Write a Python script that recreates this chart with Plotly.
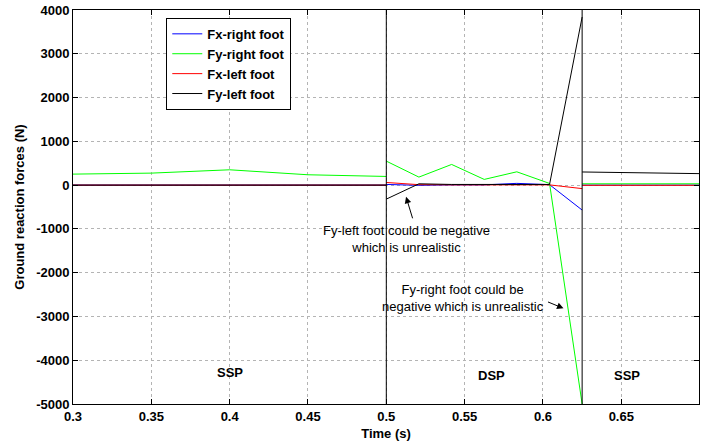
import plotly.graph_objects as go

# ---- data ----
t_ssp1 = [0.3, 0.35, 0.4, 0.45, 0.5]
t_dsp = [0.5, 0.5208, 0.5417, 0.5625, 0.5833, 0.6042, 0.625]
t_ssp2 = [0.625, 0.66, 0.7]

fx_right_ssp1 = [0, 0, 0, 0, 0]
fy_right_ssp1 = [251, 274, 350, 236, 198]
fx_left_ssp1 = [0, 0, 0, 0, 0]
fy_left_ssp1 = [0, 0, 0, 0, 0]

fx_right_dsp = [15, -5, 5, 5, 40, 10, -570]
fy_right_dsp = [548, 183, 472, 130, 304, 38, -5000]
fx_left_dsp = [60, 10, 5, 5, 5, 5, -80]
fy_left_dsp = [-320, 30, 15, 10, 10, 15, 3840]

fx_right_ssp2 = [0, 0, 0]
fy_right_ssp2 = [30, 30, 30]
fx_left_ssp2 = [-5, -5, -5]
fy_left_ssp2 = [300, 275, 262]

series_names = ["Fx-right foot", "Fy-right foot", "Fx-left foot", "Fy-left foot"]
series_colors = ["#0000ff", "#00ff00", "#ff0000", "#000000"]
series_data = [
    (fx_right_ssp1, fx_right_dsp, fx_right_ssp2),
    (fy_right_ssp1, fy_right_dsp, fy_right_ssp2),
    (fx_left_ssp1, fx_left_dsp, fx_left_ssp2),
    (fy_left_ssp1, fy_left_dsp, fy_left_ssp2),
]

x_ticks = [0.3, 0.35, 0.4, 0.45, 0.5, 0.55, 0.6, 0.65]
y_ticks = [4000, 3000, 2000, 1000, 0, -1000, -2000, -3000, -4000, -5000]
phase_bounds = [0.5, 0.625]

FONT = "Liberation Sans, Arial, sans-serif"

fig = go.Figure()
for name, color, (a, b, c) in zip(series_names, series_colors, series_data):
    xs = t_ssp1 + [None] + t_dsp + [None] + t_ssp2
    ys = a + [None] + b + [None] + c
    fig.add_trace(go.Scatter(x=xs, y=ys, mode="lines", name=name,
                             line=dict(color=color, width=1),
                             connectgaps=False))

for xb in phase_bounds:
    fig.add_shape(type="line", xref="x", yref="paper", x0=xb, x1=xb, y0=0, y1=1,
                  line=dict(color="black", width=1))

annos = [
    dict(x=0.4, y=-4290, text="<b>SSP</b>", showarrow=False),
    dict(x=0.567, y=-4350, text="<b>DSP</b>", showarrow=False),
    dict(x=0.6536, y=-4350, text="<b>SSP</b>", showarrow=False),
    dict(x=0.5126, y=-1233, text="Fy-left foot could be negative<br>which is unrealistic",
         showarrow=False),
    dict(x=0.549, y=-2580, text="Fy-right foot could be<br>negative which is unrealistic",
         showarrow=False),
    dict(x=0.5126, y=-267, text="", showarrow=True, ax=7, ay=23,
         arrowhead=2, arrowsize=1.3, arrowwidth=1, arrowcolor="black"),
    dict(x=0.6131, y=-2815, text="", showarrow=True, ax=-17, ay=-7,
         arrowhead=2, arrowsize=1.3, arrowwidth=1, arrowcolor="black"),
]
for a in annos:
    a.update(font=dict(family=FONT, size=13, color="black"))
    fig.add_annotation(**a)

fig.update_layout(
    width=710, height=443,
    margin=dict(l=73, r=11, t=10, b=39, autoexpand=False),
    paper_bgcolor="white", plot_bgcolor="white",
    font=dict(family=FONT, size=13, color="black"),
    showlegend=True,
    legend=dict(x=0.149, y=0.98, xanchor="left", yanchor="top",
                bgcolor="white", bordercolor="black", borderwidth=1,
                font=dict(family=FONT, size=13, color="black", weight="bold"),
                itemwidth=30, tracegroupgap=0),
)
fig.update_xaxes(
    range=[0.3, 0.6996], tickvals=x_ticks, ticktext=[f"{v:g}" for v in x_ticks],
    ticks="inside", ticklen=5, tickcolor="black", automargin=False,
    showline=True, linecolor="black", linewidth=1, mirror="ticks",
    showgrid=True, gridcolor="#b4b4b4", griddash="dot", gridwidth=1,
    zeroline=False,
    tickfont=dict(family=FONT, size=13, weight="bold"),
    title=dict(text="<b>Time (s)</b>", font=dict(family=FONT, size=13), standoff=6),
)
fig.update_yaxes(
    range=[-5000, 4000], tickvals=y_ticks, ticktext=[str(v) for v in y_ticks],
    ticks="inside", ticklen=5, tickcolor="black", automargin=False,
    showline=True, linecolor="black", linewidth=1, mirror="ticks",
    showgrid=True, gridcolor="#b4b4b4", griddash="dot", gridwidth=1,
    zeroline=False,
    tickfont=dict(family=FONT, size=13, weight="bold"),
    title=dict(text="<b>Ground reaction forces (N)</b>", font=dict(family=FONT, size=13), standoff=8),
)

fig.write_html("out.html")
